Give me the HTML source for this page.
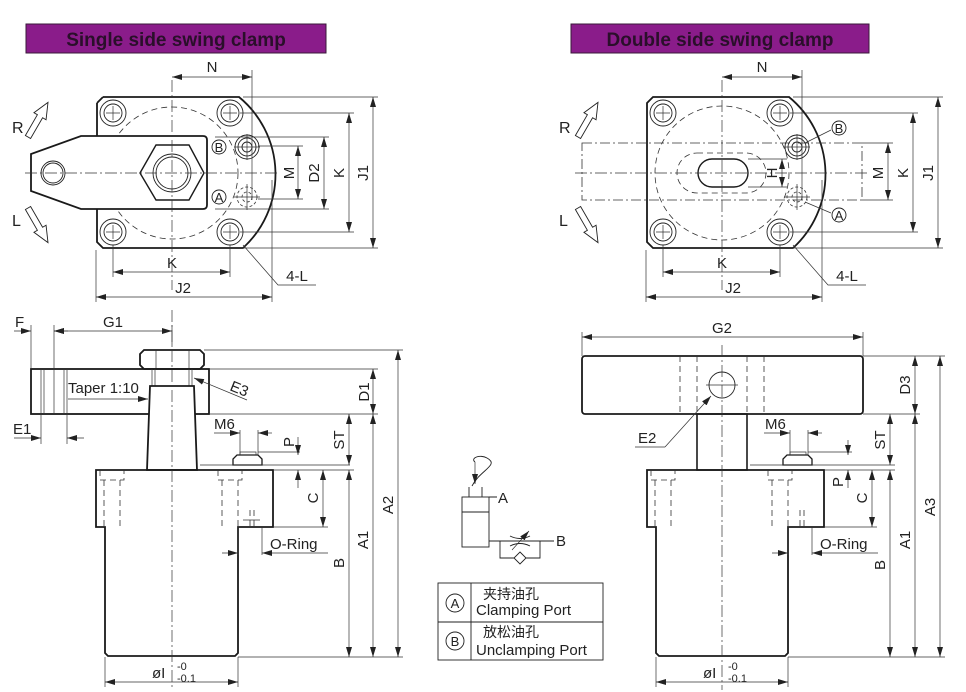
<!DOCTYPE html>
<html><head><meta charset="utf-8"><style>
html,body{margin:0;padding:0;background:#fff;}
svg{display:block;}
text{font-family:"Liberation Sans","Noto Sans CJK SC",sans-serif;fill:#222;}
.o{fill:none;stroke:#1a1a1a;stroke-width:1.8;}
.t{fill:none;stroke:#222;stroke-width:0.9;}
.d{fill:none;stroke:#333;stroke-width:0.7;}
.dash{fill:none;stroke:#333;stroke-width:0.8;stroke-dasharray:6,4;}
.cl{fill:none;stroke:#333;stroke-width:0.7;stroke-dasharray:12,3,2,3;}
.lab{font-size:15px;}
</style></head><body>
<svg width="966" height="692" viewBox="0 0 966 692" xmlns="http://www.w3.org/2000/svg">
<defs>
<marker id="a" viewBox="0 0 10 6" refX="10" refY="3" markerWidth="10" markerHeight="6" orient="auto-start-reverse" markerUnits="userSpaceOnUse"><path d="M0,0 L10,3 L0,6 z" fill="#222"/></marker>
</defs>

<rect x="26" y="24" width="300" height="29" fill="#8a1c8a" stroke="#3a1a3a" stroke-width="1"/>
<text x="176" y="46" text-anchor="middle" font-size="19" font-weight="bold" style="fill:#2a0f2a">Single side swing clamp</text>
<rect x="571" y="24" width="298" height="29" fill="#8a1c8a" stroke="#3a1a3a" stroke-width="1"/>
<text x="720" y="46" text-anchor="middle" font-size="19" font-weight="bold" style="fill:#2a0f2a">Double side swing clamp</text>

<!-- TOP LEFT -->
<g>
<path class="o" d="M103,97 L239,97 A100,100 0 0 1 243,248 L103,248 L97,242 L97,209 M97,136 L97,103 Z" />
<path class="o" d="M97,103 L103,97"/>
<circle class="dash" cx="172" cy="173" r="66"/>
<g class="t">
<circle cx="113" cy="113" r="13"/><circle cx="113" cy="113" r="9"/>
<circle cx="230" cy="113" r="13"/><circle cx="230" cy="113" r="9"/>
<circle cx="113" cy="232" r="13"/><circle cx="113" cy="232" r="9"/>
<circle cx="230" cy="232" r="13"/><circle cx="230" cy="232" r="9"/>
</g>
<g class="d"><path d="M106,113h14M113,106v14M223,113h14M230,106v14M106,232h14M113,225v14M223,232h14M230,225v14"/></g>
<path class="o" style="fill:#fff" d="M81,136 L203,136 Q207,136 207,140 L207,205 Q207,209 203,209 L81,209 L31,191 L31,154 Z"/>
<circle class="t" cx="53" cy="173" r="12"/><circle class="t" cx="53" cy="173" r="10"/>
<polygon class="o" style="stroke-width:1.4" points="156,145 189,145 204,173 189,200 156,200 140,173"/>
<circle class="t" cx="172" cy="173" r="19"/><circle class="t" cx="172" cy="173" r="16"/>
<circle class="t" cx="247" cy="147" r="12"/><circle class="t" cx="247" cy="147" r="9"/><circle class="t" cx="247" cy="147" r="5"/>
<circle class="dash" cx="247" cy="197" r="10" style="stroke-dasharray:3,2"/><circle class="dash" cx="247" cy="197" r="5" style="stroke-dasharray:3,2"/>
<path class="d" d="M234,147h26M247,134v26M234,197h26M247,184v26"/>
<path class="cl" d="M25,173 H280 M172,80 V290"/>
<circle class="t" cx="219" cy="147" r="7"/><text x="219" y="152" text-anchor="middle" font-size="13">B</text>
<circle class="t" cx="219" cy="197" r="7"/><text x="219" y="202" text-anchor="middle" font-size="13">A</text>
<path class="d" d="M252,70 V200"/>
<path class="d" d="M172,77 H252" marker-start="url(#a)" marker-end="url(#a)"/>
<text x="212" y="72" text-anchor="middle" class="lab">N</text>
<path class="d" d="M258,146H303 M258,199H303 M215,137H329 M215,209H329 M240,113H354 M240,232H354 M243,97H378 M243,248H378"/>
<path class="d" d="M298,146V199" marker-start="url(#a)" marker-end="url(#a)"/>
<path class="d" d="M324,137V209" marker-start="url(#a)" marker-end="url(#a)"/>
<path class="d" d="M349,113V232" marker-start="url(#a)" marker-end="url(#a)"/>
<path class="d" d="M373,97V248" marker-start="url(#a)" marker-end="url(#a)"/>
<text transform="translate(294,173) rotate(-90)" text-anchor="middle" class="lab">M</text>
<text transform="translate(319,173) rotate(-90)" text-anchor="middle" class="lab">D2</text>
<text transform="translate(344,173) rotate(-90)" text-anchor="middle" class="lab">K</text>
<text transform="translate(368,173) rotate(-90)" text-anchor="middle" class="lab">J1</text>
<path class="d" d="M113,245V277 M230,245V277 M96,250V302 M272,180V302"/>
<path class="d" d="M113,272H230" marker-start="url(#a)" marker-end="url(#a)"/>
<path class="d" d="M96,297H272" marker-start="url(#a)" marker-end="url(#a)"/>
<text x="172" y="268" text-anchor="middle" class="lab">K</text>
<text x="183" y="293" text-anchor="middle" class="lab">J2</text>
<path class="d" d="M243,245 L278,285 H316"/>
<text x="297" y="281" text-anchor="middle" class="lab">4-L</text>
<polygon class="t" transform="translate(28,137) rotate(30)" points="-3,0 3,0 3,-24 7,-24 0,-40 -7,-24 -3,-24"/>
<polygon class="t" transform="translate(28,208) rotate(150)" points="-3,0 3,0 3,-24 7,-24 0,-40 -7,-24 -3,-24"/>
<text x="12" y="133" font-size="16">R</text>
<text x="12" y="226" font-size="16">L</text>
</g>

<!-- TOP RIGHT -->
<g>
<path class="o" d="M653,97 L789,97 A100,100 0 0 1 793,248 L653,248 L647,242 L647,103 Z"/>
<circle class="dash" cx="722" cy="173" r="67"/>
<g class="t">
<circle cx="663" cy="113" r="13"/><circle cx="663" cy="113" r="9"/>
<circle cx="780" cy="113" r="13"/><circle cx="780" cy="113" r="9"/>
<circle cx="663" cy="232" r="13"/><circle cx="663" cy="232" r="9"/>
<circle cx="780" cy="232" r="13"/><circle cx="780" cy="232" r="9"/>
</g>
<g class="d"><path d="M656,113h14M663,106v14M773,113h14M780,106v14M656,232h14M663,225v14M773,232h14M780,225v14"/></g>
<path class="dash" style="stroke-dasharray:10,3,2,3" d="M582,143 H862 V200 H582 Z"/>
<path class="o" style="stroke-width:1.4" d="M712,159 H734 A14,14 0 0 1 734,187 H712 A14,14 0 0 1 712,159 Z"/>
<path class="dash" d="M697,153 H746 A20,20 0 0 1 746,193 H697 A20,20 0 0 1 697,153 Z"/>
<circle class="t" cx="797" cy="147" r="12"/><circle class="t" cx="797" cy="147" r="9"/><circle class="t" cx="797" cy="147" r="5"/>
<circle class="dash" cx="797" cy="197" r="10" style="stroke-dasharray:3,2"/><circle class="dash" cx="797" cy="197" r="5" style="stroke-dasharray:3,2"/>
<path class="d" d="M784,147h26M797,134v26M784,197h26M797,184v26"/>
<path class="cl" d="M575,173 H870 M722,80 V290"/>
<path class="d" d="M805,143 L831,130 M805,202 L831,213"/>
<circle class="t" cx="839" cy="128" r="7"/><text x="839" y="133" text-anchor="middle" font-size="13">B</text>
<circle class="t" cx="839" cy="215" r="7"/><text x="839" y="220" text-anchor="middle" font-size="13">A</text>
<path class="d" d="M802,70 V200"/>
<path class="d" d="M722,77 H802" marker-start="url(#a)" marker-end="url(#a)"/>
<text x="762" y="72" text-anchor="middle" class="lab">N</text>
<path class="d" d="M748,159H787 M748,187H787 M862,143H893 M862,200H893 M790,113H918 M790,232H918 M793,97H943 M793,248H943"/>
<path class="d" d="M782,159V187" marker-start="url(#a)" marker-end="url(#a)"/>
<path class="d" d="M888,143V200" marker-start="url(#a)" marker-end="url(#a)"/>
<path class="d" d="M913,113V232" marker-start="url(#a)" marker-end="url(#a)"/>
<path class="d" d="M938,97V248" marker-start="url(#a)" marker-end="url(#a)"/>
<text transform="translate(777,173) rotate(-90)" text-anchor="middle" class="lab">H</text>
<text transform="translate(883,173) rotate(-90)" text-anchor="middle" class="lab">M</text>
<text transform="translate(908,173) rotate(-90)" text-anchor="middle" class="lab">K</text>
<text transform="translate(933,173) rotate(-90)" text-anchor="middle" class="lab">J1</text>
<path class="d" d="M663,245V277 M780,245V277 M646,250V302 M822,180V302"/>
<path class="d" d="M663,272H780" marker-start="url(#a)" marker-end="url(#a)"/>
<path class="d" d="M646,297H822" marker-start="url(#a)" marker-end="url(#a)"/>
<text x="722" y="268" text-anchor="middle" class="lab">K</text>
<text x="733" y="293" text-anchor="middle" class="lab">J2</text>
<path class="d" d="M793,245 L828,285 H866"/>
<text x="847" y="281" text-anchor="middle" class="lab">4-L</text>
<polygon class="t" transform="translate(578,137) rotate(30)" points="-3,0 3,0 3,-24 7,-24 0,-40 -7,-24 -3,-24"/>
<polygon class="t" transform="translate(578,208) rotate(150)" points="-3,0 3,0 3,-24 7,-24 0,-40 -7,-24 -3,-24"/>
<text x="559" y="133" font-size="16">R</text>
<text x="559" y="226" font-size="16">L</text>
</g>

<!-- BOTTOM LEFT -->
<g>
<path class="o" d="M144,350 H200 L204,354 V365 L200,369 H144 L140,365 V354 Z"/>
<path class="d" d="M156,350V369 M189,350V369"/>
<rect class="o" x="31" y="369" width="178" height="45"/>
<path class="d" d="M41,369V414 M44,369V414 M54,369V414 M64,369V414 M67,369V414"/>
<path class="d" d="M152,369V386 M155,369V386 M189,369V386 M192,369V386"/>
<path class="o" style="fill:#fff" d="M150,386 H194 L197,470 H147 Z"/>
<path class="o" d="M96,470 H273 V527 H238 V653 L235,656 H108 L105,653 V527 H96 Z"/>
<path class="dash" d="M100,470V480H124V470 M104,480V527 M120,480V527 M218,470V480H242V470 M222,480V527 M238,480V527 M250,510V527 M254,510V527"/>
<path class="d" d="M243,520H260"/>
<path class="o" style="stroke-width:1.3" d="M233,465 H262 V459 L258,455 H237 L233,459 Z"/>
<path class="d" d="M240,455V452H256V455 M200,465H350"/>
<path class="cl" d="M172,310 V690"/>
<path class="d" d="M31,325V369 M54,325V369 M172,325V345"/>
<path class="d" d="M54,331H172" marker-start="url(#a)" marker-end="url(#a)"/>
<path class="d" d="M14,331H31" marker-end="url(#a)"/><path class="d" d="M68,331H54" marker-end="url(#a)"/>
<text x="15" y="327" class="lab">F</text>
<text x="113" y="327" text-anchor="middle" class="lab">G1</text>
<path class="d" d="M41,414V444 M67,414V444 M14,438H41" marker-end="url(#a)"/>
<path class="d" d="M84,438H67" marker-end="url(#a)"/>
<text x="13" y="434" class="lab">E1</text>
<text x="68" y="393" class="lab">Taper 1:10</text>
<path class="d" d="M68,399H148" marker-end="url(#a)"/>
<path class="d" d="M247,400 L194,378" marker-end="url(#a)"/>
<text transform="translate(229,390) rotate(22)" class="lab">E3</text>
<path class="d" d="M204,350H403 M209,369H378 M209,414H378 M273,470H354 M273,527H328 M238,657H403"/>
<path class="d" d="M349,414V465" marker-start="url(#a)" marker-end="url(#a)"/>
<path class="d" d="M373,369V414" marker-start="url(#a)" marker-end="url(#a)"/>
<path class="d" d="M373,414V657" marker-start="url(#a)" marker-end="url(#a)"/>
<path class="d" d="M398,350V657" marker-start="url(#a)" marker-end="url(#a)"/>
<path class="d" d="M349,470V657" marker-start="url(#a)" marker-end="url(#a)"/>
<path class="d" d="M323,470V527" marker-start="url(#a)" marker-end="url(#a)"/>
<path class="d" d="M258,452H300 M298,437V455" marker-end="url(#a)"/>
<path class="d" d="M298,488V470" marker-end="url(#a)"/>
<text transform="translate(294,442) rotate(-90)" class="lab" text-anchor="middle">P</text>
<text transform="translate(344,440) rotate(-90)" class="lab" text-anchor="middle">ST</text>
<text transform="translate(369,392) rotate(-90)" class="lab" text-anchor="middle">D1</text>
<text transform="translate(368,540) rotate(-90)" class="lab" text-anchor="middle">A1</text>
<text transform="translate(393,505) rotate(-90)" class="lab" text-anchor="middle">A2</text>
<text transform="translate(344,563) rotate(-90)" class="lab" text-anchor="middle">B</text>
<text transform="translate(318,498) rotate(-90)" class="lab" text-anchor="middle">C</text>
<path class="d" d="M240,430V455 M258,430V455 M214,433H240" marker-end="url(#a)"/>
<path class="d" d="M272,433H258" marker-end="url(#a)"/>
<text x="214" y="429" class="lab">M6</text>
<path class="d" d="M238,527V555 M262,527V555 M222,553H238" marker-end="url(#a)"/>
<path class="d" d="M328,553H262" marker-end="url(#a)"/>
<text x="270" y="549" class="lab">O-Ring</text>
<path class="d" d="M105,657V687 M238,657V687"/>
<path class="d" d="M105,682H238" marker-start="url(#a)" marker-end="url(#a)"/>
<text x="152" y="678" class="lab">øI</text>
<text x="177" y="670" font-size="11">-0</text>
<text x="177" y="682" font-size="11">-0.1</text>
</g>

<!-- BOTTOM RIGHT -->
<g>
<rect class="o" x="582" y="356" width="281" height="58" rx="3"/>
<path class="dash" d="M680,356V414 M697,356V414 M747,356V414 M764,356V414"/>
<circle class="t" cx="722" cy="385" r="13"/>
<path class="d" d="M706,385h32"/>
<rect class="o" x="697" y="414" width="50" height="56" style="stroke-width:1.6"/>
<path class="o" d="M647,470 H824 V527 H788 V653 L785,656 H659 L656,653 V527 H647 Z"/>
<path class="dash" d="M651,470V480H675V470 M655,480V527 M671,480V527 M768,470V480H792V470 M772,480V527 M788,480V527 M800,510V527 M804,510V527"/>
<path class="o" style="stroke-width:1.3" d="M783,465 H812 V459 L808,455 H787 L783,459 Z"/>
<path class="d" d="M790,455V452H806V455 M750,465H895"/>
<path class="cl" d="M722,345 V690"/>
<path class="d" d="M582,332V356 M863,332V356"/>
<path class="d" d="M582,337H863" marker-start="url(#a)" marker-end="url(#a)"/>
<text x="722" y="333" text-anchor="middle" class="lab">G2</text>
<path class="d" d="M665,447 L711,396" marker-end="url(#a)"/>
<path class="d" d="M635,447H665"/>
<text x="638" y="443" class="lab">E2</text>
<path class="d" d="M863,356H945 M863,414H920 M824,470H895 M824,527H877 M788,657H945"/>
<path class="d" d="M915,356V414" marker-start="url(#a)" marker-end="url(#a)"/>
<path class="d" d="M940,356V657" marker-start="url(#a)" marker-end="url(#a)"/>
<path class="d" d="M890,414V465" marker-start="url(#a)" marker-end="url(#a)"/>
<path class="d" d="M915,414V657" marker-start="url(#a)" marker-end="url(#a)"/>
<path class="d" d="M890,470V657" marker-start="url(#a)" marker-end="url(#a)"/>
<path class="d" d="M872,470V527" marker-start="url(#a)" marker-end="url(#a)"/>
<path class="d" d="M808,452H852 M848,440V455" marker-end="url(#a)"/>
<path class="d" d="M848,488V470" marker-end="url(#a)"/>
<text transform="translate(910,385) rotate(-90)" class="lab" text-anchor="middle">D3</text>
<text transform="translate(935,507) rotate(-90)" class="lab" text-anchor="middle">A3</text>
<text transform="translate(885,440) rotate(-90)" class="lab" text-anchor="middle">ST</text>
<text transform="translate(910,540) rotate(-90)" class="lab" text-anchor="middle">A1</text>
<text transform="translate(885,565) rotate(-90)" class="lab" text-anchor="middle">B</text>
<text transform="translate(867,498) rotate(-90)" class="lab" text-anchor="middle">C</text>
<text transform="translate(843,482) rotate(-90)" class="lab" text-anchor="middle">P</text>
<path class="d" d="M790,430V455 M808,430V455 M764,433H790" marker-end="url(#a)"/>
<path class="d" d="M822,433H808" marker-end="url(#a)"/>
<text x="765" y="429" class="lab">M6</text>
<path class="d" d="M788,527V555 M812,527V555 M772,553H788" marker-end="url(#a)"/>
<path class="d" d="M878,553H812" marker-end="url(#a)"/>
<text x="820" y="549" class="lab">O-Ring</text>
<path class="d" d="M656,657V687 M788,657V687"/>
<path class="d" d="M656,682H788" marker-start="url(#a)" marker-end="url(#a)"/>
<text x="703" y="678" class="lab">øI</text>
<text x="728" y="670" font-size="11">-0</text>
<text x="728" y="682" font-size="11">-0.1</text>
</g>

<!-- SCHEMATIC -->
<g>
<path class="t" d="M472,486 C480,470 500,465 487,458 C480,454 470,458 475,462"/>
<path class="d" d="M475,462 V484" marker-end="url(#a)"/>
<rect class="t" x="462" y="497" width="27" height="50"/>
<path class="t" d="M462,512H489 M469,487V497 M482,487V497 M489,497H497"/>
<text x="498" y="503" class="lab">A</text>
<path class="t" d="M489,541H554 M500,541V558H540V541"/>
<path class="t" d="M510,536 Q520,541 530,536 M510,546 Q520,541 530,546"/>
<path class="d" d="M512,550 L529,531" marker-end="url(#a)"/>
<polygon class="t" style="fill:#fff" points="520,552 526,558 520,564 514,558"/>
<text x="556" y="546" class="lab">B</text>
<rect class="t" x="438" y="583" width="165" height="77"/>
<path class="t" d="M438,622H603 M471,583V660"/>
<circle class="t" cx="455" cy="603" r="9"/><text x="455" y="608" text-anchor="middle" font-size="13">A</text>
<circle class="t" cx="455" cy="641" r="9"/><text x="455" y="646" text-anchor="middle" font-size="13">B</text>
<text x="483" y="599" font-size="14">夹持油孔</text>
<text x="476" y="615" font-size="15">Clamping Port</text>
<text x="483" y="637" font-size="14">放松油孔</text>
<text x="476" y="655" font-size="15">Unclamping Port</text>
</g>
</svg>
</body></html>
